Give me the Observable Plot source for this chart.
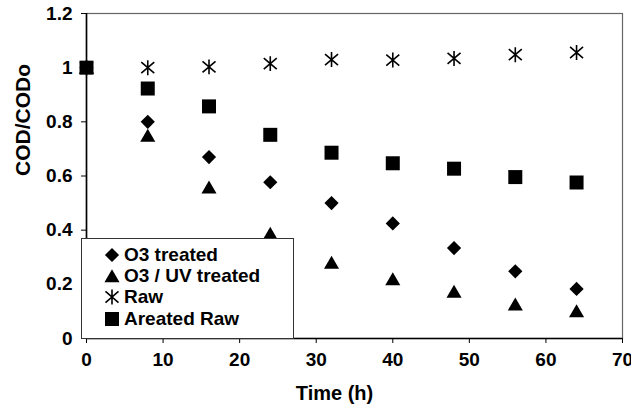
<!DOCTYPE html>
<html>
<head>
<meta charset="utf-8">
<script src="https://cdn.jsdelivr.net/npm/d3@7"></script>
<script src="https://cdn.jsdelivr.net/npm/@observablehq/plot@0.6"></script>
<style>
  html, body { margin: 0; padding: 0; background: white; }
  #wrap { position: relative; width: 631px; height: 412px; font-family: "Liberation Sans", Arial, sans-serif; }
  #legend { position: absolute; left: 81px; top: 238px; width: 211px; height: 94px; border: 1px solid #333; background: white; box-sizing: content-box; padding-top: 5px; }
  .row { display: flex; align-items: center; height: 21.3px; font-size: 19px; font-weight: bold; color: black; }
  .row svg { margin-left: 22px; margin-right: 4px; }
</style>
</head>
<body>
<div id="wrap"></div>
<script>
const times = [0, 8, 16, 24, 32, 40, 48, 56, 64];
const o3Treated = [1.0, 0.80, 0.67, 0.577, 0.50, 0.425, 0.334, 0.248, 0.183];
const o3UvTreated = [1.0, 0.75, 0.559, 0.388, 0.281, 0.22, 0.174, 0.127, 0.102];
const raw = [1.0, 1.0, 1.003, 1.015, 1.03, 1.028, 1.034, 1.048, 1.056];
const areatedRaw = [1.0, 0.923, 0.857, 0.752, 0.686, 0.647, 0.627, 0.596, 0.576];
const seriesNames = ["O3 treated", "O3 / UV treated", "Raw", "Areated Raw"];
const xTicks = [0, 10, 20, 30, 40, 50, 60, 70];
const yTicks = [0, 0.2, 0.4, 0.6, 0.8, 1, 1.2];

const asterisk = {
  draw(context, size) {
    const r = Math.sqrt(size / Math.PI);
    const v = r * 1.15, w = r, h = r * 0.85;
    context.moveTo(0, -v); context.lineTo(0, v);
    context.moveTo(-w, -h); context.lineTo(w, h);
    context.moveTo(-w, h); context.lineTo(w, -h);
  }
};

const toRows = (vals) => times.map((t, i) => ({t, v: vals[i]}));

const chart = Plot.plot({
  width: 631,
  height: 412,
  marginLeft: 86,
  marginRight: 9,
  marginTop: 13,
  marginBottom: 74,
  style: { fontFamily: "Liberation Sans, Arial, sans-serif", fontSize: "19px", fontWeight: "bold", color: "black", background: "white", overflow: "visible" },
  x: { domain: [0, 70], ticks: xTicks },
  y: { domain: [0, 1.2], ticks: yTicks },
  marks: [
    Plot.frame({ stroke: "#666", strokeWidth: 1.2 }),
    Plot.axisX({ ticks: xTicks, tickSize: 5, tickPadding: 9, fontSize: 19, fontWeight: "bold", tickFormat: d => String(d), label: null }),
    Plot.axisY({ ticks: yTicks, tickSize: 5, tickPadding: 9, fontSize: 19, fontWeight: "bold", tickFormat: d => String(d), label: null }),
    Plot.ruleY([0], { stroke: "black", strokeWidth: 1.6 }),
    Plot.ruleX([0], { stroke: "black", strokeWidth: 1.6 }),
    Plot.text(["Time (h)"], { frameAnchor: "bottom", dx: -20, dy: 61, fontSize: 20, fontWeight: "bold", fill: "black" }),
    Plot.text(["COD/CODo"], { frameAnchor: "left", rotate: -90, dx: -63, fontSize: 21, fontWeight: "bold", fill: "black" }),
    Plot.dot(toRows(o3Treated), { x: "t", y: "v", symbol: "diamond2", r: 6.4, fill: "black", stroke: "none" }),
    Plot.dot(toRows(o3UvTreated), { x: "t", y: "v", symbol: "triangle", r: 5.6, dy: 2, fill: "black", stroke: "none" }),
    Plot.dot(toRows(raw), { x: "t", y: "v", symbol: asterisk, r: 6.5, fill: "none", stroke: "black", strokeWidth: 1.6 }),
    Plot.dot(toRows(areatedRaw), { x: "t", y: "v", symbol: "square", r: 7.9, fill: "black", stroke: "none" })
  ]
});

const wrap = document.getElementById("wrap");
wrap.appendChild(chart);

// legend
const legendSymbols = [
  { type: d3.symbolDiamond2, r: 6.4, fill: true },
  { type: d3.symbolTriangle, r: 5.6, fill: true, dy: 2 },
  { type: asterisk, r: 6.5, fill: false },
  { type: d3.symbolSquare, r: 7.9, fill: true }
];
const legend = document.createElement("div");
legend.id = "legend";
seriesNames.forEach((name, i) => {
  const s = legendSymbols[i];
  const row = document.createElement("div");
  row.className = "row";
  const svg = d3.create("svg").attr("width", 16).attr("height", 18);
  svg.append("path")
    .attr("transform", `translate(8,${9 + (s.dy || 0)})`)
    .attr("d", d3.symbol(s.type, Math.PI * s.r * s.r)())
    .attr("fill", s.fill ? "black" : "none")
    .attr("stroke", s.fill ? "none" : "black")
    .attr("stroke-width", 1.6);
  row.appendChild(svg.node());
  const span = document.createElement("span");
  span.textContent = name;
  row.appendChild(span);
  legend.appendChild(row);
});
wrap.appendChild(legend);
</script>
</body>
</html>
